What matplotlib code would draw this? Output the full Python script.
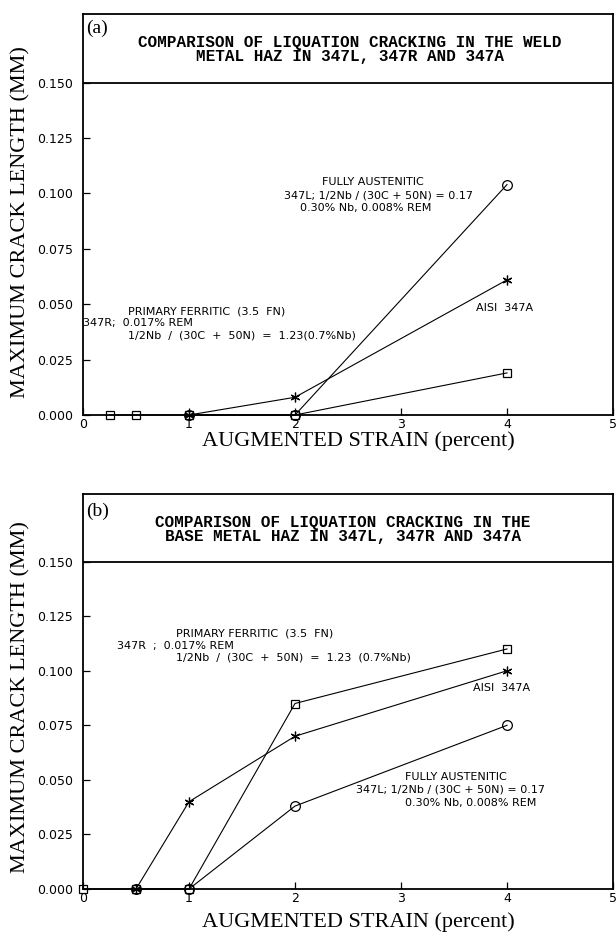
import matplotlib
matplotlib.use("Agg")
import matplotlib.pyplot as plt

# ---------------- data ----------------
x_ticks = [0, 1, 2, 3, 4, 5]
y_ticks = [0.000, 0.025, 0.050, 0.075, 0.100, 0.125, 0.150]

# (a) weld metal HAZ
a_347R_x = [0.25, 0.5, 1, 2, 4]
a_347R_y = [0.0, 0.0, 0.0, 0.0, 0.019]
a_347L_x = [1, 2, 4]
a_347L_y = [0.0, 0.0, 0.104]
a_347A_x = [1, 2, 4]
a_347A_y = [0.0, 0.008, 0.061]

# (b) base metal HAZ
b_347R_x = [0, 0.5, 1, 2, 4]
b_347R_y = [0.0, 0.0, 0.0, 0.085, 0.110]
b_347A_x = [0.5, 1, 2, 4]
b_347A_y = [0.0, 0.040, 0.070, 0.100]
b_347L_x = [0.5, 1, 2, 4]
b_347L_y = [0.0, 0.0, 0.038, 0.075]

title_a = ["COMPARISON OF LIQUATION CRACKING IN THE WELD",
           "METAL HAZ IN 347L, 347R AND 347A"]
title_b = ["COMPARISON OF LIQUATION CRACKING IN THE",
           "BASE METAL HAZ IN 347L, 347R AND 347A"]
xlabel = "AUGMENTED STRAIN (percent)"
ylabel = "MAXIMUM CRACK LENGTH (MM)"

# ---------------- layout ----------------
W, H = 616, 935
fig = plt.figure(figsize=(W / 100, H / 100), dpi=100)
Y_MAX = 0.181
X_MAX = 5.0
LEFT, RIGHT = 83, 613

SANS = "DejaVu Sans"
SERIF = "Liberation Serif"
MONO = "Liberation Mono"
ANN_FS = 8


def make_ax(top, bottom):
    ax = fig.add_axes([LEFT / W, 1 - bottom / H, (RIGHT - LEFT) / W, (bottom - top) / H])
    ax.set_xlim(0, X_MAX)
    ax.set_ylim(0, Y_MAX)
    ax.set_xticks(x_ticks)
    ax.set_xticklabels([str(t) for t in x_ticks], fontfamily=SANS, fontsize=9)
    ax.set_yticks(y_ticks)
    ax.set_yticklabels([f"{t:.3f}" for t in y_ticks], fontfamily=SANS, fontsize=9)
    ax.tick_params(direction="in", length=5, width=0.9, color="black")
    ax.tick_params(axis="x", pad=2)
    ax.tick_params(axis="y", pad=7)
    for s in ax.spines.values():
        s.set_linewidth(1.3)
        s.set_color("black")
    ax.axhline(0.150, color="black", lw=1.3)
    return ax


def px_to_data(top, bottom, px, py):
    xd = (px - LEFT) / (RIGHT - LEFT) * X_MAX
    yd = (bottom - py) / (bottom - top) * Y_MAX
    return xd, yd


def series(ax, x, y, kind):
    common = dict(color="black", lw=0.8, mec="black", mfc="none", clip_on=False, zorder=3)
    if kind == "sq":
        ax.plot(x, y, marker="s", ms=6, mew=0.9, **common)
    elif kind == "ci":
        ax.plot(x, y, marker="o", ms=7, mew=0.9, **common)
    else:
        ax.plot(x, y, marker=(6, 2, 0), ms=7, mew=0.9, **common)


def label_block(ax, top, bottom, items):
    for (px, py, s) in items:
        xd, yd = px_to_data(top, bottom, px, py)
        ax.text(xd, yd, s, fontfamily=SANS, fontsize=ANN_FS, ha="left", va="center")


# ---- panel (a) ----
TA, BA = 14, 415
axa = make_ax(TA, BA)
series(axa, a_347R_x, a_347R_y, "sq")
series(axa, a_347L_x, a_347L_y, "ci")
series(axa, a_347A_x, a_347A_y, "as")
label_block(axa, TA, BA, [
    (322, 182, "FULLY AUSTENITIC"),
    (284, 195, "347L; 1/2Nb / (30C + 50N) = 0.17"),
    (300, 208, "0.30% Nb, 0.008% REM"),
    (476, 308, "AISI  347A"),
    (128, 311, "PRIMARY FERRITIC  (3.5  FN)"),
    (83, 323, "347R;  0.017% REM"),
    (128, 335, "1/2Nb  /  (30C  +  50N)  =  1.23(0.7%Nb)"),
])

# ---- panel (b) ----
TB, BB = 494, 889
axb = make_ax(TB, BB)
series(axb, b_347R_x, b_347R_y, "sq")
series(axb, b_347A_x, b_347A_y, "as")
series(axb, b_347L_x, b_347L_y, "ci")
label_block(axb, TB, BB, [
    (176, 634, "PRIMARY FERRITIC  (3.5  FN)"),
    (117, 646, "347R  ;  0.017% REM"),
    (176, 658, "1/2Nb  /  (30C  +  50N)  =  1.23  (0.7%Nb)"),
    (473, 688, "AISI  347A"),
    (405, 777, "FULLY AUSTENITIC"),
    (356, 790, "347L; 1/2Nb / (30C + 50N) = 0.17"),
    (405, 803, "0.30% Nb, 0.008% REM"),
])

# ---- titles and panel tags ----
def ftext(px, py, s, **kw):
    fig.text(px / W, 1 - py / H, s, **kw)

TFS = 11.5
ftext(350, 42, title_a[0], fontfamily=MONO, fontsize=TFS, fontweight="bold", ha="center", va="center")
ftext(350, 56, title_a[1], fontfamily=MONO, fontsize=TFS, fontweight="bold", ha="center", va="center")
ftext(343, 523, title_b[0], fontfamily=MONO, fontsize=TFS, fontweight="bold", ha="center", va="center")
ftext(343, 537, title_b[1], fontfamily=MONO, fontsize=TFS, fontweight="bold", ha="center", va="center")

ftext(86, 28, "(a)", fontfamily=SERIF, fontsize=14, ha="left", va="center")
ftext(86, 511, "(b)", fontfamily=SERIF, fontsize=14, ha="left", va="center")

# axis labels
LFS = 16
ftext(358, 441, xlabel, fontfamily=SERIF, fontsize=LFS, ha="center", va="center")
ftext(358, 922, xlabel, fontfamily=SERIF, fontsize=LFS, ha="center", va="center")
ftext(21, 222, ylabel, fontfamily=SERIF, fontsize=LFS, rotation=90, ha="center", va="center")
ftext(21, 697, ylabel, fontfamily=SERIF, fontsize=LFS, rotation=90, ha="center", va="center")

fig.savefig("out.png", dpi=100, facecolor="white")
